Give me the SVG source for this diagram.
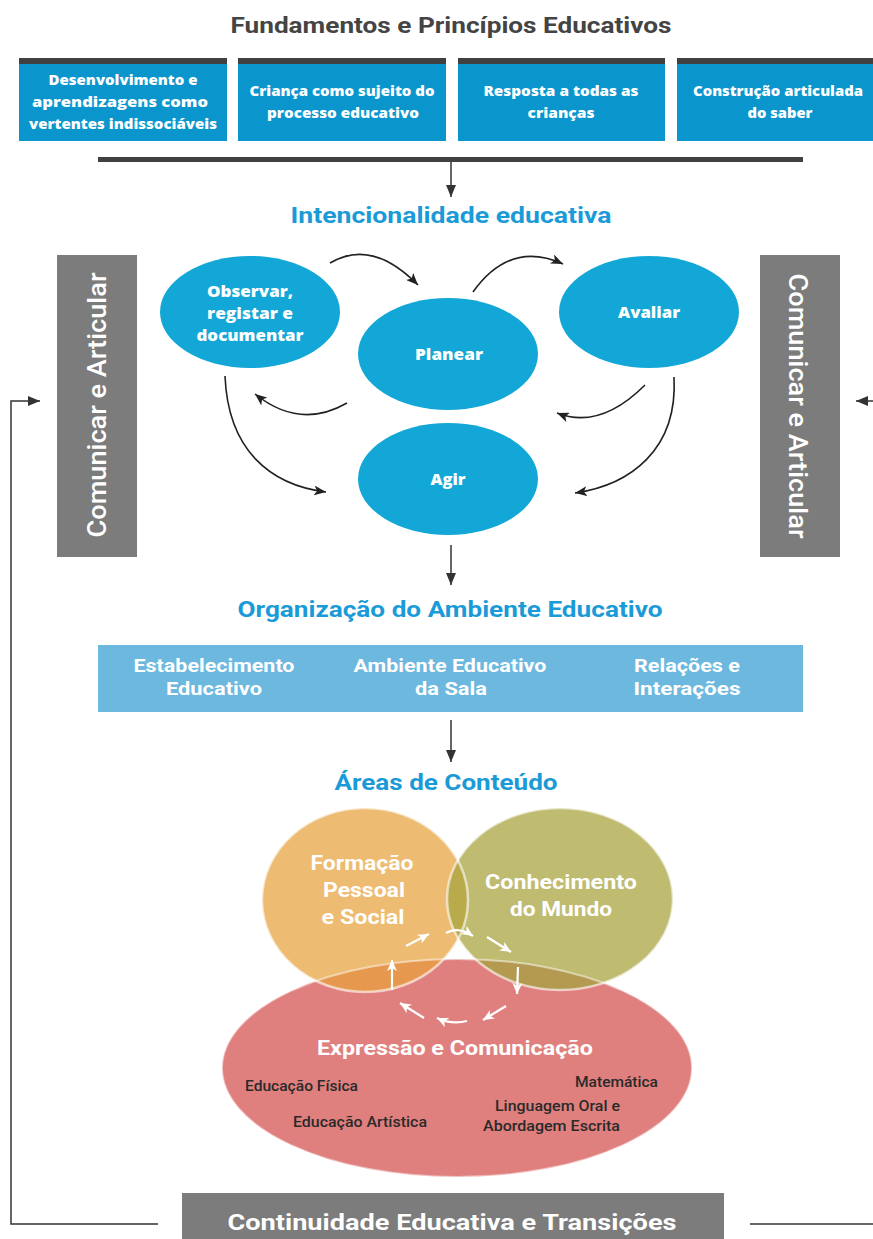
<svg xmlns="http://www.w3.org/2000/svg" width="873" height="1239" viewBox="0 0 873 1239">
<defs>
<style>
.h{font-family:Roboto,"Liberation Sans",sans-serif;font-weight:bold;text-anchor:middle}
.ttl{font-size:22px;fill:#1a9bd7}
.hb{font-family:"Open Sans","Liberation Sans",sans-serif;font-weight:800;font-size:13.5px;fill:#fff;text-anchor:middle}
.el{font-family:"Open Sans","Liberation Sans",sans-serif;font-weight:800;font-size:16.5px;fill:#fff;text-anchor:middle}
.lb{font-family:Roboto,"Liberation Sans",sans-serif;font-weight:bold;font-size:18px;fill:#fff;text-anchor:middle}
.ct{font-family:Roboto,"Liberation Sans",sans-serif;font-weight:bold;font-size:20px;fill:#fff;text-anchor:middle}
.sm{font-family:Roboto,"Liberation Sans",sans-serif;font-weight:500;font-size:14px;fill:#2a2a2a}
.vt{font-family:Roboto,"Liberation Sans",sans-serif;font-weight:500;font-size:26px;fill:#fff;text-anchor:middle}
.cv{fill:none;stroke:#222;stroke-width:1.6}
.ln{fill:none;stroke:#333;stroke-width:1.5}
.wa{fill:none;stroke:#fff;stroke-width:2.2}
</style>
<marker id="ah" markerUnits="userSpaceOnUse" markerWidth="13" markerHeight="10" refX="12" refY="5" orient="auto" viewBox="0 0 13 10"><path d="M0,0 L12,5 L0,10 L3,5 z" fill="#222"/></marker>
<marker id="ahs" markerUnits="userSpaceOnUse" markerWidth="13" markerHeight="10" refX="12" refY="5" orient="auto" viewBox="0 0 13 10"><path d="M0,0 L12,5 L0,10 z" fill="#333"/></marker>
<marker id="wh" markerUnits="userSpaceOnUse" markerWidth="12" markerHeight="10" refX="11" refY="5" orient="auto" viewBox="0 0 12 10"><path d="M0,0 L11,5 L0,10 L3,5 z" fill="#fff"/></marker>
<clipPath id="cPink"><ellipse cx="457" cy="1068" rx="235" ry="109"/></clipPath>
<clipPath id="cOlive"><ellipse cx="560" cy="899" rx="113" ry="91"/></clipPath>
</defs>

<text class="h" x="451" y="33" font-size="22" fill="#444" textLength="441" lengthAdjust="spacingAndGlyphs">Fundamentos e Princípios Educativos</text>

<g id="f1">
<rect x="19" y="58" width="208" height="83" fill="#0a96cd"/><rect x="19" y="58" width="208" height="6" fill="#404040"/>
<text class="hb" x="123" y="85" textLength="149" lengthAdjust="spacingAndGlyphs">Desenvolvimento e</text>
<text class="hb" x="120" y="107" textLength="176" lengthAdjust="spacingAndGlyphs">aprendizagens como</text>
<text class="hb" x="123" y="129" textLength="188" lengthAdjust="spacingAndGlyphs">vertentes indissociáveis</text>
</g>
<g id="f2">
<rect x="238" y="58" width="208" height="83" fill="#0a96cd"/><rect x="238" y="58" width="208" height="6" fill="#404040"/>
<text class="hb" x="342" y="96" textLength="185" lengthAdjust="spacingAndGlyphs">Criança como sujeito do</text>
<text class="hb" x="343" y="118" textLength="152" lengthAdjust="spacingAndGlyphs">processo educativo</text>
</g>
<g id="f3">
<rect x="458" y="58" width="207" height="83" fill="#0a96cd"/><rect x="458" y="58" width="207" height="6" fill="#404040"/>
<text class="hb" x="561" y="96" textLength="155" lengthAdjust="spacingAndGlyphs">Resposta a todas as</text>
<text class="hb" x="561" y="118" textLength="67" lengthAdjust="spacingAndGlyphs">crianças</text>
</g>
<g id="f4">
<rect x="677" y="58" width="200" height="83" fill="#0a96cd"/><rect x="677" y="58" width="200" height="6" fill="#404040"/>
<text class="hb" x="778" y="96" textLength="170" lengthAdjust="spacingAndGlyphs">Construção articulada</text>
<text class="hb" x="780" y="118" textLength="65" lengthAdjust="spacingAndGlyphs">do saber</text>
</g>
<rect id="bar" x="98" y="157" width="705" height="5" fill="#404040"/>

<text class="h ttl" x="451" y="223" textLength="321" lengthAdjust="spacingAndGlyphs">Intencionalidade educativa</text>

<g id="comL">
<rect x="57" y="255" width="80" height="302" fill="#7b7c7b"/>
<text class="vt" transform="translate(106,405) rotate(-90)" textLength="265" lengthAdjust="spacingAndGlyphs">Comunicar e Articular</text>
</g>
<g id="comR">
<rect x="760" y="255" width="80" height="302" fill="#7b7c7b"/>
<text class="vt" transform="translate(789,406) rotate(90)" textLength="265" lengthAdjust="spacingAndGlyphs">Comunicar e Articular</text>
</g>

<g id="observar">
<ellipse cx="250" cy="312" rx="90" ry="56" fill="#12a7d6"/>
<text class="el" x="250" y="297" textLength="86" lengthAdjust="spacingAndGlyphs">Observar,</text>
<text class="el" x="250" y="319" textLength="86" lengthAdjust="spacingAndGlyphs">registar e</text>
<text class="el" x="250" y="341" textLength="107" lengthAdjust="spacingAndGlyphs">documentar</text>
</g>
<g id="planear">
<ellipse cx="448" cy="354" rx="90" ry="56" fill="#12a7d6"/>
<text class="el" x="449" y="360" textLength="68" lengthAdjust="spacingAndGlyphs">Planear</text>
</g>
<g id="avaliar">
<ellipse cx="649" cy="312" rx="90" ry="56" fill="#12a7d6"/>
<text class="el" x="649" y="318" textLength="62" lengthAdjust="spacingAndGlyphs">Avaliar</text>
</g>
<g id="agir">
<ellipse cx="448" cy="479" rx="90" ry="56" fill="#12a7d6"/>
<text class="el" x="448" y="485" textLength="35" lengthAdjust="spacingAndGlyphs">Agir</text>
</g>

<text class="h ttl" x="450" y="617" textLength="425" lengthAdjust="spacingAndGlyphs">Organização do Ambiente Educativo</text>

<g id="ambiente">
<rect x="98" y="645" width="705" height="67" fill="#6cb8de"/>
<text class="lb" x="214" y="672" textLength="161" lengthAdjust="spacingAndGlyphs">Estabelecimento</text>
<text class="lb" x="214" y="695" textLength="96" lengthAdjust="spacingAndGlyphs">Educativo</text>
<text class="lb" x="450" y="672" textLength="193" lengthAdjust="spacingAndGlyphs">Ambiente Educativo</text>
<text class="lb" x="451" y="695" textLength="72" lengthAdjust="spacingAndGlyphs">da Sala</text>
<text class="lb" x="687" y="672" textLength="106" lengthAdjust="spacingAndGlyphs">Relações e</text>
<text class="lb" x="687" y="695" textLength="107" lengthAdjust="spacingAndGlyphs">Interações</text>
</g>

<text class="h ttl" x="446" y="790" textLength="223" lengthAdjust="spacingAndGlyphs">Áreas de Conteúdo</text>

<g id="areas">
<ellipse cx="457" cy="1068" rx="235" ry="109" fill="#e0807e"/>
<ellipse cx="365" cy="900" rx="103" ry="92" fill="#edbb72"/>
<ellipse cx="560" cy="899" rx="113" ry="91" fill="#bfbb70"/>
<ellipse cx="365" cy="900" rx="103" ry="92" fill="#e6984f" clip-path="url(#cPink)"/>
<ellipse cx="560" cy="899" rx="113" ry="91" fill="#b49a50" clip-path="url(#cPink)"/>
<ellipse cx="365" cy="900" rx="103" ry="92" fill="#b9aa4c" clip-path="url(#cOlive)"/>
<ellipse cx="457" cy="1068" rx="235" ry="109" fill="none" stroke="#fff" stroke-opacity="0.5" stroke-width="2"/>
<ellipse cx="365" cy="900" rx="103" ry="92" fill="none" stroke="#fff" stroke-opacity="0.6" stroke-width="2.5"/>
<ellipse cx="560" cy="899" rx="113" ry="91" fill="none" stroke="#fff" stroke-opacity="0.6" stroke-width="2.5"/>
</g>
<g id="formacao">
<text class="ct" x="362" y="870" textLength="103" lengthAdjust="spacingAndGlyphs">Formação</text>
<text class="ct" x="364" y="897" textLength="82" lengthAdjust="spacingAndGlyphs">Pessoal</text>
<text class="ct" x="363" y="924" textLength="83" lengthAdjust="spacingAndGlyphs">e Social</text>
</g>
<g id="conhecimento">
<text class="ct" x="561" y="889" textLength="152" lengthAdjust="spacingAndGlyphs">Conhecimento</text>
<text class="ct" x="561" y="916" textLength="102" lengthAdjust="spacingAndGlyphs">do Mundo</text>
</g>
<g id="expressao">
<text class="ct" x="455" y="1055" textLength="276" lengthAdjust="spacingAndGlyphs">Expressão e Comunicação</text>
<text class="sm" x="245" y="1091" textLength="113" lengthAdjust="spacingAndGlyphs">Educação Física</text>
<text class="sm" x="293" y="1127" textLength="134" lengthAdjust="spacingAndGlyphs">Educação Artística</text>
<text class="sm" x="575" y="1087" textLength="83" lengthAdjust="spacingAndGlyphs">Matemática</text>
<text class="sm" x="495" y="1111" textLength="125" lengthAdjust="spacingAndGlyphs">Linguagem Oral e</text>
<text class="sm" x="483" y="1131" textLength="137" lengthAdjust="spacingAndGlyphs">Abordagem Escrita</text>
</g>

<g id="continuidade">
<rect x="182" y="1193" width="542" height="50" fill="#7b7c7b"/>
<text class="h" x="452" y="1230" font-size="22" fill="#fff" textLength="449" lengthAdjust="spacingAndGlyphs">Continuidade Educativa e Transições</text>
</g>

<g id="connectors">
<line class="ln" x1="451" y1="162" x2="451" y2="197" marker-end="url(#ahs)"/>
<line class="ln" x1="451" y1="545" x2="451" y2="585" marker-end="url(#ahs)"/>
<line class="ln" x1="451" y1="720" x2="451" y2="762" marker-end="url(#ahs)"/>
<path class="cv" d="M330,263 Q372,238 418,285" marker-end="url(#ah)"/>
<path class="cv" d="M473,292 Q510,240 563,264" marker-end="url(#ah)"/>
<path class="cv" d="M347,403 Q300,430 255,394" marker-end="url(#ah)"/>
<path class="cv" d="M645,385 Q600,430 557,413" marker-end="url(#ah)"/>
<path class="cv" d="M225,376 C228,450 270,485 326,492" marker-end="url(#ah)"/>
<path class="cv" d="M674,377 C678,450 630,485 575,493" marker-end="url(#ah)"/>
<polyline class="ln" points="158,1224 11,1224 11,401 40,401" marker-end="url(#ahs)"/>
<line class="ln" x1="750" y1="1224" x2="873" y2="1224"/>
<line class="ln" x1="873" y1="401" x2="856" y2="401" marker-end="url(#ahs)"/>
<path class="wa" d="M392,990 L392,960" marker-end="url(#wh)"/>
<path class="wa" d="M406,946 L429,934" marker-end="url(#wh)"/>
<path class="wa" d="M446,933 Q458,926 473,936" marker-end="url(#wh)"/>
<path class="wa" d="M487,937 L511,952" marker-end="url(#wh)"/>
<path class="wa" d="M518,967 L517,994" marker-end="url(#wh)"/>
<path class="wa" d="M506,1006 L483,1020" marker-end="url(#wh)"/>
<path class="wa" d="M467,1021 Q452,1025 437,1018" marker-end="url(#wh)"/>
<path class="wa" d="M424,1018 L400,1003" marker-end="url(#wh)"/>
</g>
</svg>
